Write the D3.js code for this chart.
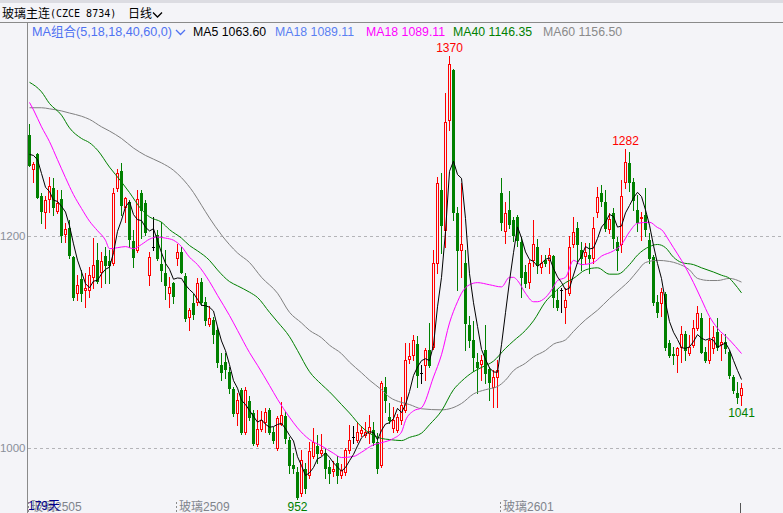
<!DOCTYPE html>
<html><head><meta charset="utf-8">
<script src="https://cdn.jsdelivr.net/npm/d3@7/dist/d3.min.js"></script>
<style>
html,body{margin:0;padding:0;background:#f4f4f8;overflow:hidden;}
svg{display:block;}
text{font-family:"Liberation Sans",Arial,"Noto Sans CJK SC",sans-serif;}
</style></head><body>
<svg id="c" width="783" height="513"></svg>
<script>
// ---------- DATA ----------
const opens=[1295,1263,1277,1238,1223,1235,1245,1224,1235,1202,
1208,1180,1146,1159,1149,1149,1161,1177,1166,1181,
1176,1175,1245,1261,1227,1232,1195,1187,1241,1231,
1163,1190,1201,1174,1165,1146,1156,1179,1185,1162,
1124,1137,1138,1157,1138,1117,1121,1111,1078,1081,
1072,1056,1033,1055,1015,1044,1033,1004,1018,1025,
1036,1015,1000,1023,1030,1008,984,977,958,980,
975,992,1002,995,995,982,978,986,975,977,
998,1010,1008,1014,1012,1014,1017,1006,984,1058,
1029,1019,1017,1026,1036,1084,1088,1098,1071,1078,
1092,1095,1175,1243,1206,1309,1357,1222,1187,1175,
1116,1102,1081,1079,1092,1075,1058,1067,1241,1205,
1225,1215,1218,1194,1166,1157,1177,1190,1171,1177,
1177,1181,1140,1149,1133,1146,1192,1208,1187,1181,
1182,1179,1223,1241,1232,1207,1222,1194,1192,1251,
1269,1251,1225,1217,1220,1196,1180,1138,1137,1145,
1099,1089,1088,1095,1108,1090,1097,1113,1123,1091,
1083,1094,1109,1098,1100,1091,1067,1052,1050];
const highs=[1306,1270,1278,1241,1238,1256,1255,1243,1243,1212,
1215,1181,1163,1168,1165,1171,1198,1193,1185,1190,
1187,1245,1263,1269,1237,1234,1206,1243,1243,1234,
1185,1218,1206,1213,1187,1161,1157,1192,1190,1165,
1132,1145,1160,1160,1142,1134,1124,1114,1090,1090,
1076,1058,1052,1057,1058,1049,1036,1036,1035,1038,
1038,1020,1030,1043,1034,1010,995,982,998,986,
1006,1019,1012,1013,1000,989,988,992,985,1000,
1022,1021,1025,1021,1025,1031,1025,1014,1063,1067,
1042,1039,1032,1048,1099,1099,1107,1106,1078,1094,
1118,1187,1256,1259,1335,1370,1358,1227,1250,1187,
1125,1120,1090,1088,1116,1076,1074,1083,1255,1232,
1242,1218,1220,1199,1173,1177,1215,1197,1182,1182,
1189,1182,1150,1151,1151,1200,1218,1213,1194,1193,
1193,1218,1246,1248,1243,1222,1226,1199,1253,1282,
1279,1255,1239,1223,1245,1203,1182,1144,1151,1147,
1102,1095,1095,1115,1110,1107,1121,1134,1127,1095,
1123,1115,1123,1108,1108,1092,1069,1062,1061];
const lows=[1266,1251,1236,1212,1208,1223,1220,1222,1194,1194,
1179,1140,1140,1139,1133,1142,1151,1156,1152,1156,
1156,1173,1242,1220,1213,1190,1171,1185,1198,1201,
1154,1187,1177,1158,1141,1133,1137,1173,1165,1120,
1111,1122,1135,1135,1116,1115,1099,1076,1064,1066,
1052,1030,1022,1013,1013,1026,1003,1002,1016,1015,
1013,1005,998,1022,1005,976,976,952,955,958,
972,991,986,993,972,967,974,967,972,975,
995,1005,1006,1011,1010,1005,1003,976,982,1034,
1024,1015,1015,1023,1034,1080,1083,1058,1061,1064,
1076,1093,1165,1184,1190,1300,1215,1149,1161,1092,
1095,1073,1052,1064,1061,1045,1039,1039,1206,1193,
1208,1195,1191,1142,1152,1151,1172,1165,1165,1172,
1165,1133,1130,1128,1118,1144,1190,1175,1168,1175,
1165,1175,1218,1228,1205,1203,1189,1168,1185,1245,
1242,1225,1205,1196,1200,1175,1135,1124,1125,1092,
1086,1079,1072,1081,1083,1088,1095,1111,1090,1081,
1080,1090,1092,1083,1090,1066,1052,1042,1041];
const closes=[1267,1268,1237,1224,1234,1247,1227,1231,1201,1207,
1182,1142,1154,1146,1151,1163,1173,1158,1176,1173,
1173,1241,1259,1229,1236,1197,1180,1235,1225,1204,
1180,1190,1179,1168,1154,1152,1143,1185,1166,1123,
1130,1126,1156,1138,1121,1123,1108,1081,1072,1075,
1057,1033,1045,1015,1055,1029,1005,1018,1026,1034,
1015,1008,1028,1031,1009,984,981,954,989,962,
997,1006,995,998,981,976,980,975,979,998,
1008,1010,1015,1017,1015,1020,1006,981,1061,1045,
1026,1026,1029,1041,1083,1087,1102,1069,1071,1092,
1078,1175,1250,1210,1308,1362,1223,1187,1192,1118,
1102,1086,1076,1083,1071,1062,1067,1074,1213,1222,
1211,1201,1196,1161,1156,1175,1192,1173,1175,1175,
1182,1142,1133,1149,1140,1190,1204,1192,1179,1185,
1179,1208,1237,1233,1208,1216,1198,1187,1238,1270,
1251,1234,1213,1218,1207,1179,1138,1128,1147,1095,
1088,1088,1094,1108,1092,1095,1113,1127,1091,1083,
1102,1105,1095,1100,1094,1069,1055,1048,1057];
// MA5 for the first four days (earlier closes not shown)
const ma5Head=[1277,1276,1272,1259];
// moving averages: [day index, value]
const ma18Pts=[[0,1326],[1,1319],[3,1303],[5,1289],[7,1272],[9,1255],[11,1239],[13,1226],[15,1214],[17,1205],[19,1196],[20,1188],[22,1189],[24,1190],[26,1188],[28,1192],[30,1197],[32,1199],[34,1198],[36,1196],[38,1190],[40,1180],[42,1173],[45,1157],[47,1144],[50,1125],[52,1111],[55,1090],[57,1078],[60,1059],[62,1046],[65,1029],[67,1019],[70,1008],[73,1002],[76,995],[78,991],[81,992],[83,996],[86,1003],[88,1005],[91,1009],[93,1015],[94,1026],[96,1035],[98,1038],[101,1067],[103,1088],[105,1118],[107,1138],[108,1146],[110,1154],[112,1156],[115,1154],[118,1152],[120,1161],[121,1161],[122,1158],[124,1146],[126,1138],[127,1138],[129,1142],[131,1152],[132,1158],[134,1161],[136,1177],[138,1173],[141,1175],[143,1181],[146,1186],[148,1192],[150,1204],[152,1212],[155,1213],[157,1208],[158,1206],[160,1195],[161,1189],[163,1177],[166,1156],[168,1140],[170,1124],[172,1113],[175,1102],[178,1089.11]];
const ma40Pts=[[0,1345],[3,1336],[5,1325],[8,1314],[10,1302],[13,1292],[15,1288],[17,1281],[20,1265],[23,1251],[25,1241],[28,1225],[30,1218],[33,1213],[35,1206],[38,1198],[40,1191],[42,1186],[45,1177],[47,1168],[50,1157],[52,1153],[55,1147],[57,1142],[60,1128],[62,1119],[65,1105],[67,1092],[70,1072],[73,1060],[75,1053],[78,1041],[80,1033],[83,1020],[85,1014],[88,1009],[90,1008],[93,1007],[95,1010],[98,1014],[100,1022],[103,1035],[106,1055],[108,1063],[111,1072],[113,1076],[116,1082],[119,1094],[121,1101],[124,1111],[126,1120],[129,1138],[131,1146],[134,1156],[136,1160],[139,1168],[142,1170],[145,1164],[147,1164],[150,1173],[152,1182],[155,1190],[157,1192],[159,1189],[161,1180],[163,1175],[166,1173],[168,1170],[171,1166],[173,1163],[175,1160],[176,1156],[178,1146.35]];
const ma60Pts=[[0,1321],[3,1321],[5,1320],[8,1318],[10,1316],[13,1313],[15,1310],[18,1303],[20,1299],[23,1292],[26,1283],[29,1276],[33,1269],[36,1262],[38,1255],[41,1241],[43,1229],[45,1217],[48,1201],[52,1184],[55,1175],[58,1161],[62,1146],[65,1128],[68,1118],[70,1111],[73,1104],[75,1097],[78,1089],[80,1081],[83,1071],[85,1064],[88,1055],[90,1048],[93,1043],[95,1041],[98,1037],[103,1036],[108,1042],[111,1051],[114,1055],[117,1058],[119,1064],[121,1073],[124,1080],[126,1086],[129,1092],[131,1098],[134,1102],[136,1110],[139,1121],[142,1130],[145,1141],[148,1151],[150,1158],[152,1167],[154,1175],[157,1177],[160,1176],[162,1174],[165,1168],[167,1160],[170,1158],[172,1158],[175,1160],[178,1156.5]];
const yTicks=[1000,1200];
const contractStarts=[0,37,118];
const contractNames=["玻璃2505","玻璃2509","玻璃2601"];
const dayCountLabel="179天";
const highMarks=[105,149];
const lowMarks=[67,178];
const titleMain="玻璃主连";
const titleCode="(CZCE 8734)";
const titlePeriod="日线";
const maGroupLabel="MA组合(5,18,18,40,60,0)";
const legendNames=["MA5","MA18","MA18","MA40","MA60"];
const legendValues=["1063.60","1089.11","1089.11","1146.35","1156.50"];

// ---------- DRAW ----------
const BG="#f4f4f8", RED="#ff0000", GRN="#008000";
const svg=d3.select("#c");
const n=closes.length;
const plotLeft=27, W=783, H=513;
const x=d3.scaleBand().domain(d3.range(n)).range([plotLeft,plotLeft+4*n]).padding(0);
const xc=i=>x(i)+2.5;
const y=d3.scaleLinear().domain([1000,1200]).range([448,236]);
const py=v=>Math.round(y(v));

svg.append("rect").attr("width",W).attr("height",H).attr("fill",BG);
svg.append("rect").attr("width",W).attr("height",3).attr("fill","#dcdce2");
svg.append("line").attr("x1",0).attr("x2",W).attr("y1",22.5).attr("y2",22.5).attr("stroke","#8a8a8a");
svg.append("line").attr("x1",plotLeft+0.5).attr("x2",plotLeft+0.5).attr("y1",23).attr("y2",H).attr("stroke","#8a8a8a");

// grid + y labels
const yAxis=svg.append("g");
yTicks.forEach(t=>{
  yAxis.append("line").attr("x1",plotLeft+1).attr("x2",W).attr("y1",py(t)+0.5).attr("y2",py(t)+0.5)
    .attr("stroke","#b4b4b8").attr("stroke-dasharray","3,3");
  yAxis.append("text").attr("x",25.5).attr("y",py(t)).attr("dy","0.36em").attr("text-anchor","end")
    .attr("font-size",11.5).attr("fill","#8a8f9a").text(t);
});

// candles
const cg=svg.append("g");
for(let i=0;i<n;i++){
  const o=opens[i],c=closes[i],h=highs[i],l=lows[i];
  const bx=x(i);
  if(o===c){
    cg.append("line").attr("x1",bx+2.5).attr("x2",bx+2.5).attr("y1",py(h)).attr("y2",py(l)+1).attr("stroke","#000");
    cg.append("line").attr("x1",bx+1).attr("x2",bx+4).attr("y1",py(c)+0.5).attr("y2",py(c)+0.5).attr("stroke","#000");
  } else if(c>o){
    const t=py(c), b=py(o);
    cg.append("line").attr("x1",bx+2.5).attr("x2",bx+2.5).attr("y1",py(h)).attr("y2",t).attr("stroke",RED);
    cg.append("line").attr("x1",bx+2.5).attr("x2",bx+2.5).attr("y1",b+1).attr("y2",py(l)+1).attr("stroke",RED);
    cg.append("rect").attr("x",bx+1.5).attr("y",t+0.5).attr("width",2).attr("height",Math.max(0,b-t))
      .attr("fill",BG).attr("stroke",RED);
  } else {
    const t=py(o), b=py(c);
    cg.append("line").attr("x1",bx+2.5).attr("x2",bx+2.5).attr("y1",py(h)).attr("y2",py(l)+1).attr("stroke",GRN);
    cg.append("rect").attr("x",bx+1).attr("y",t).attr("width",3).attr("height",Math.max(1,b-t+1)).attr("fill",GRN);
  }
}

// moving averages
const ma5=closes.map((c,i)=> i<4 ? ma5Head[i] : d3.mean(closes.slice(i-4,i+1)));
const line=d3.line().x(d=>xc(d[0])).y(d=>y(d[1]));
const sline=d3.line().x(d=>xc(d[0])).y(d=>y(d[1])).curve(d3.curveMonotoneX);
const mg=svg.append("g").attr("fill","none").attr("stroke-width",1);
mg.append("path").attr("d",sline(ma60Pts)).attr("stroke","#808080");
mg.append("path").attr("d",sline(ma40Pts)).attr("stroke",GRN);
mg.append("path").attr("d",sline(ma18Pts)).attr("stroke","#ff00ff");
mg.append("path").attr("d",line(ma5.map((v,i)=>[i,v]))).attr("stroke","#000");

// high / low marks
highMarks.forEach(i=>{
  svg.append("text").attr("x",xc(i)).attr("y",y(highs[i])-8).attr("dy","0.36em").attr("text-anchor","middle")
    .attr("font-size",12).attr("fill",RED).text(highs[i]);
});
lowMarks.forEach(i=>{
  svg.append("text").attr("x",xc(i)).attr("y",y(lows[i])+8).attr("dy","0.36em").attr("text-anchor","middle")
    .attr("font-size",12).attr("fill",GRN).text(lows[i]);
});

// contract labels at bottom
contractStarts.forEach((i,k)=>{
  const tx=Math.round(xc(i))-1.5;
  svg.append("line").attr("x1",tx).attr("x2",tx).attr("y1",502).attr("y2",513)
    .attr("stroke","#8a8a8a").attr("stroke-dasharray","2,2");
  svg.append("text").attr("x",tx+2.5).attr("y",511).attr("font-size",12).attr("fill","#80848c").text(contractNames[k]);
});
svg.append("text").attr("x",28).attr("y",510).attr("font-size",12).attr("fill","#00008b").text(dayCountLabel);
svg.append("line").attr("x1",xc(n-1)-1).attr("x2",xc(n-1)-1).attr("y1",503).attr("y2",513).attr("stroke","#555");

// header
svg.append("text").attr("x",2).attr("y",18).attr("font-size",12).attr("fill","#000")
  .style("font-family","'Noto Sans CJK SC',sans-serif").text(titleMain);
svg.append("text").attr("x",50).attr("y",17).attr("font-size",10).attr("fill","#000")
  .style("font-family","'DejaVu Sans Mono',monospace").text(titleCode);
svg.append("text").attr("x",128).attr("y",18).attr("font-size",12).attr("fill","#000")
  .style("font-family","'Noto Sans CJK SC',sans-serif").text(titlePeriod);
svg.append("path").attr("d","M153,12.5L157.5,17L162,12.5").attr("fill","none").attr("stroke","#000").attr("stroke-width",1.3);

svg.append("text").attr("x",32).attr("y",36).attr("font-size",12.6).attr("fill","#4f72f2").text(maGroupLabel);
svg.append("path").attr("d","M176,30L180.5,34.5L185,30").attr("fill","none").attr("stroke","#4f72f2").attr("stroke-width",1.3);
const legendX=[193,275,366,453,543];
const legendColors=["#000","#5a7ff2","#ff00ff",GRN,"#8a8a8a"];
legendNames.forEach((nm,k)=>{
  svg.append("text").attr("x",legendX[k]).attr("y",36).attr("font-size",12.3).attr("fill",legendColors[k])
    .text(nm+" "+legendValues[k]);
});
</script>
</body></html>
